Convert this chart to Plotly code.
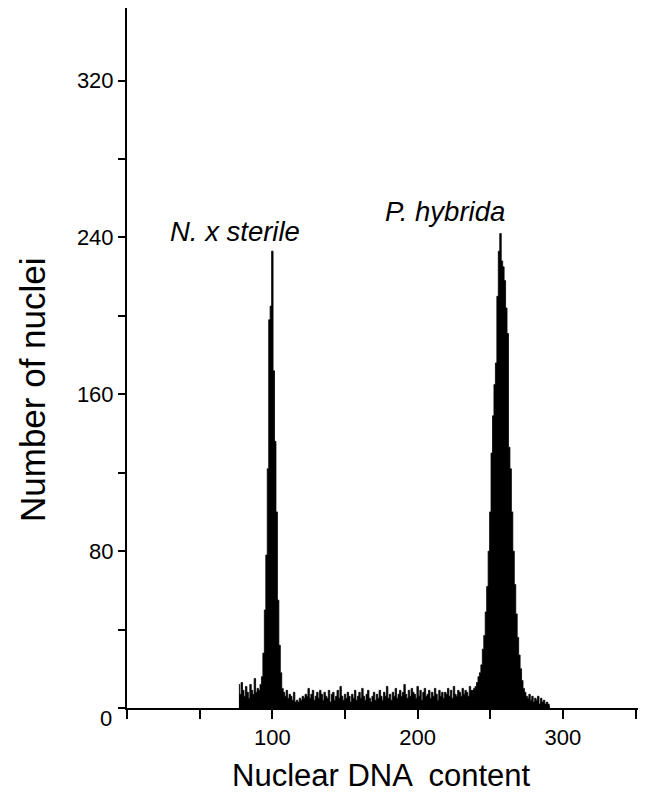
import plotly.graph_objects as go

# DNA content channels (bin centres) and counts
dna_start = 77
counts = [
    # 77-92 left shoulder noise
    12, 7, 13, 9, 6, 11, 8, 5, 12, 9, 7, 15, 8, 10, 9, 12,
    # 93-107 N. x sterile peak
    16, 28, 50, 78, 122, 198, 205, 233, 172, 136, 100, 55, 32, 18, 10,
    # 108-238 background
    8, 6, 9, 5, 7, 6, 4, 8, 3, 4,
    3, 5, 4, 6, 5, 7, 6, 10, 5, 7,
    9, 4, 6, 8, 5, 9, 7, 4, 8, 6,
    5, 9, 3, 7, 8, 4, 6, 9, 5, 11,
    6, 4, 7, 5, 8, 6, 3, 7, 5, 9,
    4, 6, 8, 5, 10, 6, 4, 7, 9, 5,
    3, 6, 8, 4, 7, 5, 9, 6, 4, 8,
    6, 11, 5, 7, 4, 8, 6, 10, 5, 7,
    9, 6, 8, 12, 7, 5, 9, 6, 10, 8,
    7, 5, 11, 6, 9, 4, 8, 10, 6, 7,
    9, 5, 8, 6, 10, 7, 4, 9, 6, 8,
    5, 8, 7, 10, 6, 9, 5, 11, 7, 6,
    9, 8, 6, 10, 7, 9, 8, 6, 11, 9,
    9,
    # 239-274 P. hybrida peak
    10, 11, 13, 16, 18, 22, 30, 37, 49, 62,
    80, 100, 130, 149, 165, 176, 210, 233, 242, 228,
    225, 218, 204, 191, 133, 122, 100, 80, 63, 48,
    36, 27, 20, 14, 10, 8,
    # 275-291 right tail
    6, 5, 7, 4, 6, 3, 5, 4, 6, 2, 5, 3, 4, 2, 3, 2, 1,
]
dna = [dna_start + i for i in range(len(counts))]

x_tickvals = [0, 50, 100, 150, 200, 250, 300, 350]
x_ticktext = ["", "", "100", "", "200", "", "300", ""]
y_tickvals = [0, 40, 80, 120, 160, 200, 240, 280, 320]
y_ticktext = ["", "", "80", "", "160", "", "240", "", "320"]

peak_labels = ["N. x sterile", "P. hybrida"]
peak_label_x = [74, 218.5]
peak_label_y = [243, 253]

x_title = "Nuclear DNA  content"
y_title = "Number of nuclei"

FONT = "Liberation Sans, Arial, sans-serif"

fig = go.Figure()
fig.add_trace(go.Scatter(
    x=dna, y=counts, mode="lines", line_shape="hvh",
    line=dict(color="black", width=0.8),
    fill="tozeroy", fillcolor="black",
    showlegend=False, hoverinfo="skip",
))

for t, xx, yy in zip(peak_labels, peak_label_x, peak_label_y):
    fig.add_annotation(x=xx, y=yy, xref="x", yref="y", text="<i>%s</i>" % t,
                       showarrow=False, font=dict(size=27.5, color="black", family=FONT))

# zero label sits a little below the axis in the original
fig.add_annotation(x=0, y=0, xref="x", yref="y", text="0", showarrow=False,
                   xanchor="right", xshift=-13, yshift=-10,
                   font=dict(size=22, color="black", family=FONT))

# axis titles
fig.add_annotation(x=0.5, y=-67 / 700, xref="paper", yref="paper", text=x_title,
                   showarrow=False, xanchor="center", yanchor="middle", xshift=-3,
                   font=dict(size=31, color="black", family=FONT))
fig.add_annotation(x=0, y=0.5, xref="paper", yref="paper", text=y_title, showarrow=False,
                   textangle=-90, xanchor="center", yanchor="middle",
                   xshift=-95, yshift=-32,
                   font=dict(size=35, color="black", family=FONT))

fig.update_layout(
    width=638, height=787,
    margin=dict(l=119, r=6, t=0, b=87),
    paper_bgcolor="white", plot_bgcolor="white",
    font=dict(family=FONT, color="black"),
    xaxis=dict(
        range=[0, 353], tickvals=x_tickvals, ticktext=x_ticktext,
        ticks="outside", ticklen=9, tickwidth=1.5, tickcolor="black",
        showline=True, linecolor="black", linewidth=2,
        showgrid=False, zeroline=False, automargin=False,
        tickfont=dict(size=22),
    ),
    yaxis=dict(
        range=[0, 357], tickvals=y_tickvals, ticktext=y_ticktext,
        ticks="outside", ticklen=7, tickwidth=1.5, tickcolor="black",
        showline=True, linecolor="black", linewidth=2,
        showgrid=False, zeroline=False, automargin=False,
        tickfont=dict(size=22),
    ),
)

fig.write_html("out.html")
